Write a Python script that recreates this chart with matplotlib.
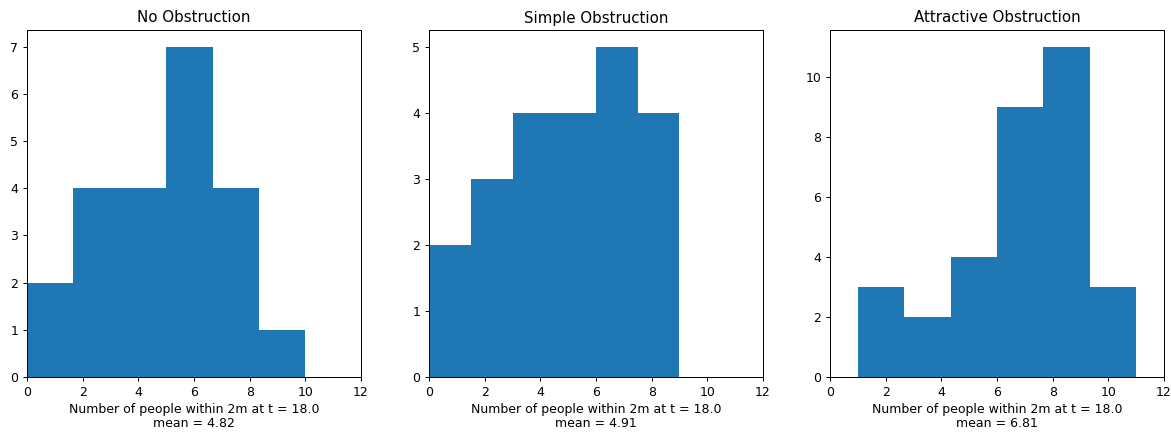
import numpy as np
import matplotlib.pyplot as plt

titles = ['No Obstruction', 'Simple Obstruction', 'Attractive Obstruction']

# bin edges and counts of each histogram
edges_none = [0, 10/6, 20/6, 5, 40/6, 50/6, 10]
counts_none = [2, 4, 4, 7, 4, 1]

edges_simple = [0, 1.5, 3, 4.5, 6, 7.5, 9]
counts_simple = [2, 3, 4, 4, 5, 4]

edges_attr = [1, 1 + 10/6, 1 + 20/6, 6, 1 + 40/6, 1 + 50/6, 11]
counts_attr = [3, 2, 4, 9, 11, 3]

t_value = 18.0
means = [4.82, 4.91, 6.81]

edges_all = [edges_none, edges_simple, edges_attr]
counts_all = [counts_none, counts_simple, counts_attr]

fig = plt.figure(figsize=(1171/90, 435/90), dpi=90)
lefts = [27, 429, 830]
for i in range(3):
    ax = fig.add_axes([lefts[i]/1171, 1 - 377/435, 334/1171, 347/435])
    e = np.array(edges_all[i])
    ax.bar(e[:-1], counts_all[i], width=np.diff(e), align='edge', color='#1f77b4')
    ax.set_xlim(0, 12)
    ax.set_title(titles[i])
    ax.set_xlabel('Number of people within 2m at t = %.1f\nmean = %.2f' % (t_value, means[i]),
                  labelpad=3, linespacing=1.15)

fig.savefig('out.png', dpi=90)
